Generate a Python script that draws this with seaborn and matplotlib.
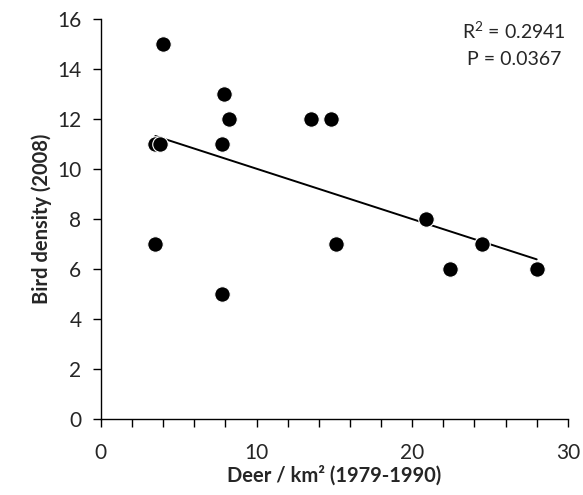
import numpy as np
import pandas as pd
import seaborn as sns
import matplotlib.pyplot as plt
from matplotlib.ticker import MultipleLocator

# values
deer = [3.5, 3.8, 4.0, 3.5, 7.9, 8.2, 7.8, 7.8, 13.5, 14.8, 15.1, 20.9, 22.4, 24.5, 28.0]
birds = [11, 11, 15, 7, 13, 12, 11, 5, 12, 12, 7, 8, 6, 7, 6]
r2_text = "R$^2$ = 0.2941"
p_text = "P = 0.0367"

df = pd.DataFrame({"deer": deer, "birds": birds})

sns.set_style("ticks")
plt.rcParams['font.family'] = ['Lato', 'DejaVu Sans']
plt.rcParams['mathtext.default'] = 'regular'

fig = plt.figure(figsize=(5.83, 4.95), dpi=100)
ax = fig.add_axes([0.173, 0.1535, 0.801, 0.808])

sns.scatterplot(data=df, x="deer", y="birds", ax=ax, color="black",
                s=125, edgecolor="white", linewidth=0.8, zorder=3)
sns.regplot(data=df, x="deer", y="birds", ax=ax, ci=None, scatter=False,
            truncate=True, line_kws=dict(color="black", lw=1.4))

ax.set_xlim(0, 30)
ax.set_ylim(0, 16)
ax.xaxis.set_major_locator(MultipleLocator(10))
ax.xaxis.set_minor_locator(MultipleLocator(2))
ax.yaxis.set_major_locator(MultipleLocator(2))
ax.tick_params(axis="both", which="major", labelsize=15, length=6, width=1, color="black")
ax.tick_params(axis="x", which="minor", length=6, width=1, color="black")
ax.tick_params(axis="x", pad=11)
ax.tick_params(axis="y", pad=8)
sns.despine(ax=ax)
for sp in ["left", "bottom"]:
    ax.spines[sp].set_color("black")
    ax.spines[sp].set_linewidth(1)

ax.set_xlabel("Deer / km² (1979-1990)", fontsize=14.5, fontweight="bold", labelpad=2)
ax.set_ylabel("Bird density (2008)", fontsize=14.5, fontweight="bold", labelpad=4)

ax.text(0.885, 0.97, r2_text, transform=ax.transAxes, ha="center", va="center", fontsize=14)
ax.text(0.885, 0.90, p_text, transform=ax.transAxes, ha="center", va="center", fontsize=14)

fig.savefig("out.png", dpi=100)
